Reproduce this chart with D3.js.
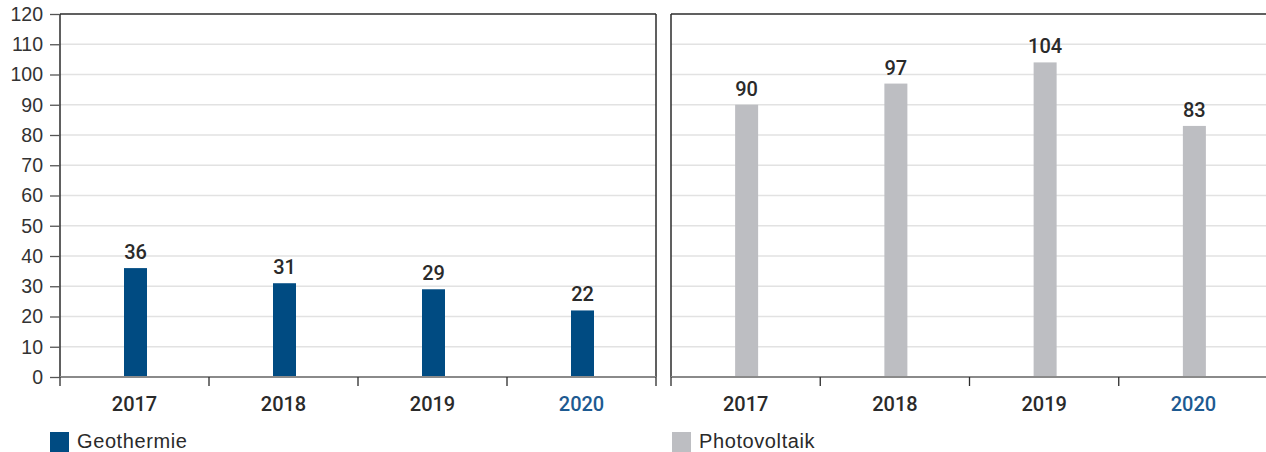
<!DOCTYPE html>
<html>
<head>
<meta charset="utf-8">
<script src="https://cdn.jsdelivr.net/npm/d3@7"></script>
<style>
  html, body { margin: 0; padding: 0; background: #fff; }
  svg { display: block; font-family: "Liberation Sans", Arial, Helvetica, sans-serif; }
</style>
</head>
<body>
<svg id="chart" width="1266" height="452"></svg>
<script>
// Installed capacity by technology, per year
const years = ["2017", "2018", "2019", "2020"];
const geothermie = [36, 31, 29, 22];
const photovoltaik = [90, 97, 104, 83];
const yTicks = [0, 10, 20, 30, 40, 50, 60, 70, 80, 90, 100, 110, 120];
const seriesNames = ["Geothermie", "Photovoltaik"];

const colors = { geo: "#004b82", pv: "#bdbec2", grid: "#e2e2e2", frame: "#2b2b2b",
                 base: "#8a8a8a", text: "#2a2a2a", highlight: "#1d5a91" };
const boldFont = "Roboto, 'Liberation Sans', Arial, sans-serif";

const svg = d3.select("#chart");
const y = d3.scaleLinear().domain([0, 120]).range([377, 14]);

const panels = [
  { name: seriesNames[0], values: geothermie, color: colors.geo, x0: 60, x1: 656, labels: true, right: true },
  { name: seriesNames[1], values: photovoltaik, color: colors.pv, x0: 671, x1: 1268, labels: false, right: false }
];

panels.forEach(p => {
  const g = svg.append("g");
  const x = d3.scaleBand().domain(years).range([p.x0, p.x1]).paddingInner(0).paddingOuter(0);
  const barW = 23;

  // horizontal gridlines
  g.selectAll("line.grid").data(yTicks.filter(t => t > 0 && t < 120)).join("line")
    .attr("x1", p.x0).attr("x2", p.x1)
    .attr("y1", d => y(d)).attr("y2", d => y(d))
    .attr("stroke", colors.grid).attr("stroke-width", 1.5);

  // bars
  g.selectAll("rect.bar").data(years).join("rect")
    .attr("x", d => x(d) + x.bandwidth() / 2 - barW / 2 + 1)
    .attr("width", barW)
    .attr("y", (d, i) => y(p.values[i]))
    .attr("height", (d, i) => y(0) - y(p.values[i]))
    .attr("fill", p.color);

  // value labels
  g.selectAll("text.val").data(years).join("text")
    .attr("x", d => x(d) + x.bandwidth() / 2 + 1)
    .attr("y", (d, i) => y(p.values[i]) - 9)
    .attr("text-anchor", "middle")
    .attr("font-family", boldFont)
    .attr("font-size", 20).attr("font-weight", 500)
    .attr("fill", colors.text)
    .text((d, i) => p.values[i]);

  // frame: top and left (and right for first panel)
  g.append("line").attr("x1", p.x0).attr("x2", p.x1).attr("y1", y(120)).attr("y2", y(120))
    .attr("stroke", colors.frame).attr("stroke-width", 1.5);
  g.append("line").attr("x1", p.x0).attr("x2", p.x0).attr("y1", y(120)).attr("y2", y(0))
    .attr("stroke", colors.frame).attr("stroke-width", 1.5);
  if (p.right) {
    g.append("line").attr("x1", p.x1).attr("x2", p.x1).attr("y1", y(120)).attr("y2", y(0))
      .attr("stroke", colors.frame).attr("stroke-width", 1.5);
  }

  // baseline
  g.append("line").attr("x1", p.x0).attr("x2", p.x1).attr("y1", y(0)).attr("y2", y(0))
    .attr("stroke", colors.base).attr("stroke-width", 2);

  // category boundary ticks
  const bounds = years.map(d => x(d)).concat(p.right ? [p.x1] : []);
  g.selectAll("line.xt").data(bounds).join("line")
    .attr("x1", d => d).attr("x2", d => d)
    .attr("y1", y(0)).attr("y2", y(0) + 9)
    .attr("stroke", colors.frame).attr("stroke-width", 1.3);

  // year labels
  g.selectAll("text.yr").data(years).join("text")
    .attr("x", d => x(d) + x.bandwidth() / 2)
    .attr("y", 411)
    .attr("text-anchor", "middle")
    .attr("font-family", boldFont)
    .attr("font-size", 20).attr("font-weight", 500)
    .attr("fill", d => d === "2020" ? colors.highlight : colors.text)
    .text(d => d);

  // y axis labels on first panel
  if (p.labels) {
    const axis = d3.axisLeft(y).tickValues(yTicks).tickSize(10).tickPadding(7).tickFormat(d3.format("d"));
    const ag = g.append("g").attr("transform", `translate(${p.x0},0)`).call(axis);
    ag.select(".domain").remove();
    ag.selectAll(".tick line").attr("stroke", "#555").attr("stroke-width", 1.3);
    ag.selectAll(".tick text").attr("font-size", 19.5)
      .attr("font-family", "'Liberation Sans', Arial, sans-serif")
      .attr("fill", "#333");
  }

  // legend
  const lx = p.x0 - 10 + (p.labels ? 0 : 11);
  g.append("rect").attr("x", lx).attr("y", 432).attr("width", 19).attr("height", 20).attr("fill", p.color);
  g.append("text").attr("x", lx + 27).attr("y", 448)
    .attr("font-size", 20).attr("letter-spacing", 0.6)
    .attr("fill", colors.text).text(p.name);
});
</script>
</body>
</html>
